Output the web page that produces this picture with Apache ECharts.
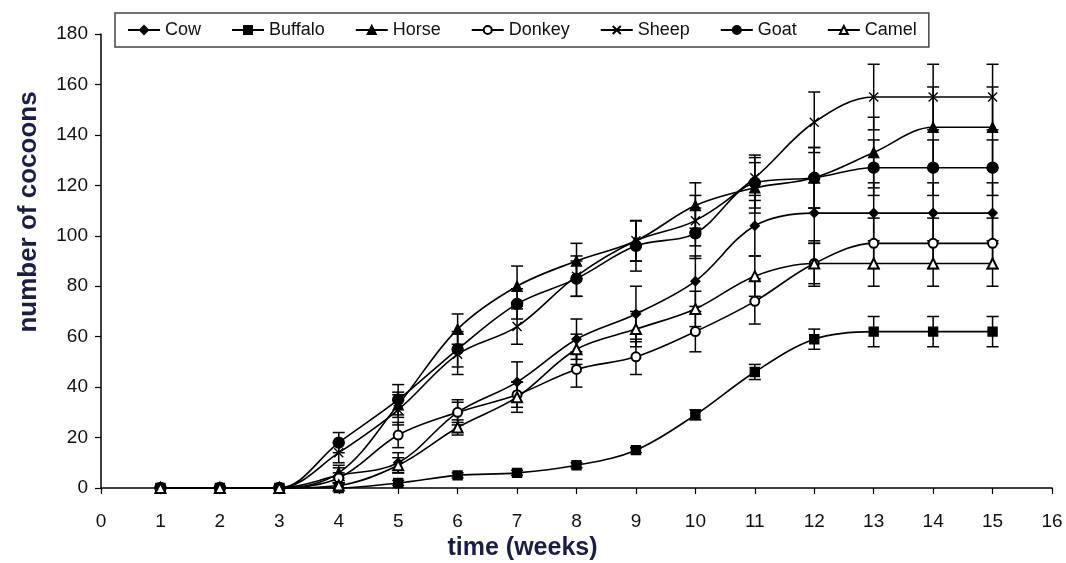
<!DOCTYPE html>
<html>
<head>
<meta charset="utf-8">
<script src="https://cdn.jsdelivr.net/npm/echarts@6/dist/echarts.min.js"></script>
<style>
  html, body { margin: 0; padding: 0; background: #fff; }
  #chart { width: 1066px; height: 563px; }
</style>
</head>
<body>
<div id="chart"></div>
<script>
// weeks and mean number of cocoons per dung type
const weeks = [1, 2, 3, 4, 5, 6, 7, 8, 9, 10, 11, 12, 13, 14, 15];
const names = ["Cow", "Buffalo", "Horse", "Donkey", "Sheep", "Goat", "Camel"];

const cow     = [0, 0, 0, 5, 10, 30, 42, 59, 69, 82, 104, 109, 109, 109, 109];
const buffalo = [0, 0, 0, 0, 2, 5, 6, 9, 15, 29, 46, 59, 62, 62, 62];
const horse   = [0, 0, 0, 6, 33, 63, 80, 90, 98, 112, 119, 123, 133, 143, 143];
const donkey  = [0, 0, 0, 4, 21, 30, 37, 47, 52, 62, 74, 89, 97, 97, 97];
const sheep   = [0, 0, 0, 14, 31, 53, 64, 84, 98, 106, 123, 145, 155, 155, 155];
const goat    = [0, 0, 0, 18, 35, 55, 73, 83, 96, 101, 121, 123, 127, 127, 127];
const camel   = [0, 0, 0, 1, 9, 24, 36, 55, 63, 71, 84, 89, 89, 89, 89];

// error bar half-lengths (standard deviation)
const cowErr     = [0, 0, 0, 3, 4, 5, 8, 8, 11, 10, 12, 12, 12, 12, 12];
const buffaloErr = [0, 0, 0, 0, 1, 1, 1, 1, 1, 2, 3, 4, 6, 6, 6];
const horseErr   = [0, 0, 0, 3, 5, 6, 8, 7, 8, 9, 10, 12, 14, 16, 16];
const donkeyErr  = [0, 0, 0, 2, 5, 4, 5, 7, 7, 8, 9, 8, 10, 10, 10];
const sheepErr   = [0, 0, 0, 4, 6, 8, 7, 8, 8, 10, 9, 12, 13, 13, 13];
const goatErr    = [0, 0, 0, 4, 6, 7, 6, 7, 10, 10, 10, 12, 11, 11, 11];
const camelErr   = [0, 0, 0, 1, 3, 3, 6, 6, 7, 7, 8, 9, 9, 9, 9];

const yTicks = { min: 0, max: 180, interval: 20 };
const xTicks = { min: 0, max: 16, interval: 1 };

const values = [cow, buffalo, horse, donkey, sheep, goat, camel];
const errors = [cowErr, buffaloErr, horseErr, donkeyErr, sheepErr, goatErr, camelErr];
const symbols = ["diamond", "rect", "triangle", "emptyCircle", "path://M0,0L10,10M10,0L0,10", "circle", "emptyTriangle"];
const sizes = [9, 9, 10, 9, 9, 11, 10];

const chart = echarts.init(document.getElementById("chart"));

const lineSeries = names.map((n, i) => ({
  name: n,
  type: "line",
  smooth: 0.35,
  data: weeks.map((w, k) => [w, values[i][k]]),
  symbol: symbols[i],
  symbolSize: sizes[i],
  lineStyle: { color: "#000", width: 1.6 },
  itemStyle: { color: "#000", borderColor: "#000", borderWidth: 1.4 },
  z: 3,
}));

const errSeries = names.map((n, i) => ({
  name: n + " err",
  type: "custom",
  data: weeks
    .map((w, k) => [w, values[i][k] - errors[i][k], values[i][k] + errors[i][k], errors[i][k]])
    .filter((d) => d[3] > 0),
  renderItem: (params, api) => {
    const x = api.value(0);
    const top = api.coord([x, api.value(2)]);
    const bot = api.coord([x, api.value(1)]);
    const w = 6;
    const st = { stroke: "#000", lineWidth: 1.5 };
    return {
      type: "group",
      children: [
        { type: "line", shape: { x1: top[0], y1: top[1], x2: bot[0], y2: bot[1] }, style: st },
        { type: "line", shape: { x1: top[0] - w, y1: top[1], x2: top[0] + w, y2: top[1] }, style: st },
        { type: "line", shape: { x1: bot[0] - w, y1: bot[1], x2: bot[0] + w, y2: bot[1] }, style: st },
      ],
    };
  },
  z: 2,
  silent: true,
}));

chart.setOption({
  animation: false,
  backgroundColor: "#fff",
  textStyle: { fontFamily: "Liberation Sans, Arial, sans-serif" },
  legend: {
    data: names,
    left: 115,
    top: 13,
    padding: [8, 12, 8, 12],
    itemGap: 30,
    itemWidth: 32,
    itemHeight: 10,
    borderColor: "#444",
    borderWidth: 1.5,
    textStyle: { fontSize: 18, color: "#111" },
  },
  grid: { left: 101, right: 14, top: 34, bottom: 75, outerBoundsMode: "none" },
  xAxis: {
    type: "value",
    ...xTicks,
    name: "time (weeks)",
    nameLocation: "middle",
    nameGap: 48,
    nameMoveOverlap: false,
    nameTextStyle: { fontSize: 25, fontWeight: "bold", color: "#1c1c4a", padding: [0, 108, 0, 0] },
    axisLine: { lineStyle: { color: "#000", width: 1.5 } },
    axisTick: { lineStyle: { color: "#000", width: 1.2 }, length: 6 },
    axisLabel: { fontSize: 19, color: "#111", margin: 24 },
    splitLine: { show: false },
  },
  yAxis: {
    type: "value",
    ...yTicks,
    name: "number of cocoons",
    nameLocation: "middle",
    nameGap: 59,
    nameMoveOverlap: false,
    nameTextStyle: { fontSize: 26, fontWeight: "bold", color: "#1c1c4a", padding: [0, 0, 0, 98] },
    axisLine: { show: true, lineStyle: { color: "#000", width: 1.5 } },
    axisTick: { show: true, lineStyle: { color: "#000", width: 1.2 }, length: 6 },
    axisLabel: { fontSize: 19, color: "#111", margin: 13 },
    splitLine: { show: false },
  },
  series: [...errSeries, ...lineSeries],
});
</script>
</body>
</html>
